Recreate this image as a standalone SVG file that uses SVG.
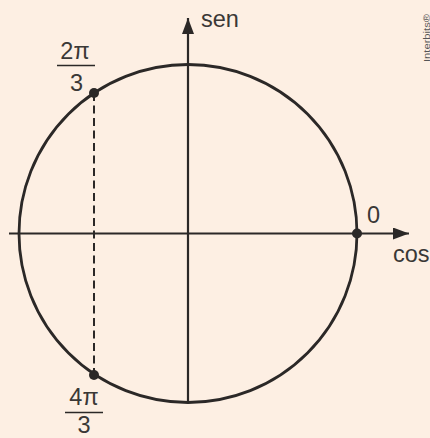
<svg xmlns="http://www.w3.org/2000/svg" width="430" height="438" viewBox="0 0 430 438">
<defs>
<style>
.ln{stroke:#2b2827;fill:none;stroke-linecap:butt}
.t{font-family:"Liberation Sans",Arial,sans-serif;font-size:23.5px;fill:#3a3836}
.pt{fill:#2b2827}
</style>
<marker id="ah" viewBox="0 0 16 12" refX="16" refY="6" markerWidth="16" markerHeight="12" markerUnits="userSpaceOnUse" orient="auto">
<path d="M0,0 L16,6 L0,12 Z" fill="#2b2827"/>
</marker>
</defs>
<rect width="430" height="438" fill="#fdefe3"/>
<g id="connectors">
<line class="ln" x1="9" y1="233.5" x2="409" y2="233.5" stroke-width="2.2" marker-end="url(#ah)"/>
<line class="ln" x1="188" y1="402.5" x2="188" y2="18" stroke-width="2.2" marker-end="url(#ah)"/>
<line class="ln" x1="94" y1="93" x2="94" y2="375" stroke-width="2" stroke-dasharray="8,4.5"/>
</g>
<g id="circle">
<circle class="ln" cx="188" cy="233.5" r="169" stroke-width="2.8"/>
</g>
<g id="p0">
<circle class="pt" cx="357" cy="233.5" r="5"/>
<text class="t" x="367" y="223">0</text>
</g>
<g id="p2pi3">
<circle class="pt" cx="94" cy="93" r="5"/>
<text class="t" x="75" y="58.5" text-anchor="middle">2π</text>
<line class="ln" x1="57" y1="65.5" x2="95" y2="65.5" stroke-width="1.6"/>
<text class="t" x="76.5" y="91" text-anchor="middle">3</text>
</g>
<g id="p4pi3">
<circle class="pt" cx="94" cy="375" r="5"/>
<text class="t" x="84" y="404.5" text-anchor="middle">4π</text>
<line class="ln" x1="65" y1="412.5" x2="103" y2="412.5" stroke-width="1.6"/>
<text class="t" x="84" y="432.5" text-anchor="middle">3</text>
</g>
<g id="labels">
<text class="t" x="201" y="27">sen</text>
<text class="t" x="393" y="262">cos</text>
<text transform="translate(429.5,62) rotate(-90)" font-family="'Liberation Sans',Arial,sans-serif" font-size="8.5" fill="#555" textLength="48" lengthAdjust="spacingAndGlyphs">Interbits®</text>
</g>
</svg>
